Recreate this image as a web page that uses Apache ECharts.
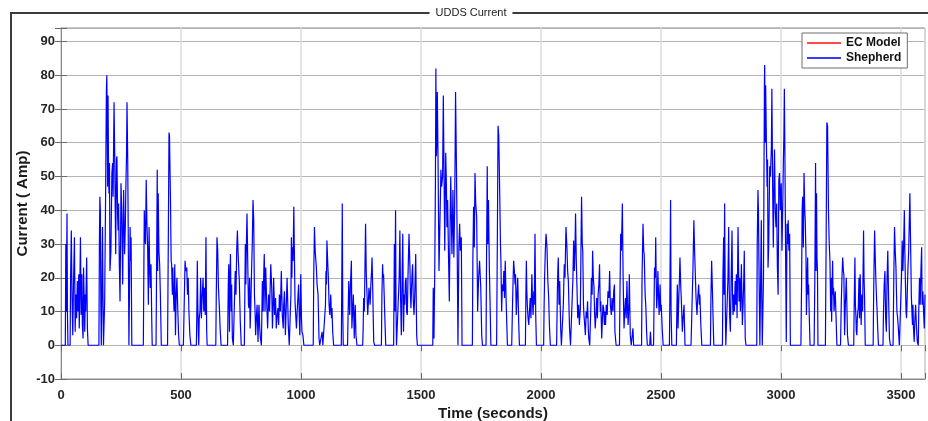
<!DOCTYPE html>
<html>
<head>
<meta charset="utf-8">
<title>UDDS Current</title>
<script src="https://cdn.jsdelivr.net/npm/echarts@6/dist/echarts.min.js"></script>
<style>
  html, body { margin: 0; padding: 0; background: #ffffff; }
  #chart { width: 928px; height: 421px; }
</style>
</head>
<body>
<div id="chart"></div>
<script>
// Battery current (A) over three consecutive UDDS drive cycles, [time s, current A]
const shepherdCycle1 = [
  [0,0],[18,0],[20,30],[22,10],[25,39],[27,9],[29,0],[38,0],[40,20],[43,34],[46,14],[49,3],[52,18],[56,32],[59,4],[62,15],[65,8],[68,19],[71,10],[74,21],[76,5],[78,14],[81,32],[84,9],[87,21],[89,6],[92,2],[94,23],[97,12],[99,4],[101,15],[103,10],[107,26],[110,5],[113,0],
  [158,0],[160,30],[162,44],[164,40],[166,12],[168,0],[171,0],[173,35],[175,14],[177,0],[180,0],[182,13],[186,46],[189,75],[191,80],[193,60],[194,47],[196,74],[198,54],[200,45],[202,54],[204,22],[208,28],[212,51],[215,54],[217,44],[221,72],[224,55],[226,40],[228,27],[231,55],[233,56],[236,38],[238,34],[240,42],[243,24],[246,13],[250,48],[253,40],[257,18],[259,35],[261,46],[265,27],[268,35],[270,46],[273,56],[275,72],[278,55],[280,35],[283,0],[285,0],[288,35],[290,25],[292,32],[295,0],
  [343,0],[345,20],[347,40],[349,33],[352,30],[355,49],[358,36],[361,29],[364,12],[367,35],[369,25],[372,17],[375,24],[378,8],[380,0],
  [396,0],[398,20],[401,52],[403,22],[405,45],[408,28],[411,24],[414,15],[418,0],
  [444,0],[447,30],[450,63],[452,62],[456,44],[459,25],[461,24],[464,15],[466,23],[468,16],[471,10],[474,24],[477,3],[480,15],[483,20],[486,12],[490,3],[493,0],
  [510,0],[513,11],[517,25],[520,22],[524,23],[527,15],[530,20],[533,10],[537,3],[541,0],
  [564,0],[566,10],[568,25],[570,12],[572,4],[574,0],[576,8],[579,10],[582,20],[585,8],[588,14],[592,20],[595,10],[598,17],[601,9],[604,32],[607,4],[609,0],
  [645,0],[647,15],[650,32],[653,28],[656,17],[660,11],[663,5],[667,0],
  [694,0],[697,18],[699,24],[702,4],[704,20],[706,27],[709,10],[711,18],[714,2],[718,0],
  [723,0],[726,22],[729,15],[732,28],[735,34],[738,27],[741,22],[743,19],[747,7],[751,0],
  [764,0],[766,15],[768,30],[770,18],[773,32],[775,39],[778,25],[781,12],[783,11],[786,20],[788,5],[791,12],[794,22],[797,30],[800,43],[803,37],[806,15],[809,9],[811,3],[814,8],[817,12],[821,1],[823,8],[825,12],[828,5],[831,2],[835,0],
  [836,0],[839,19],[842,10],[845,22],[847,27],[850,10],[853,23],[857,13],[861,5],[865,15],[869,10],[874,24],[878,17],[881,5],[884,12],[886,20],[890,9],[894,14],[897,5],[901,9],[904,11],[907,6],[910,15],[914,10],[918,22],[922,9],[926,5],[928,12],[931,16],[935,3],[938,10],[942,20],[945,12],[947,6],[951,0],
  [956,0],[958,15],[960,32],[962,20],[964,29],[967,25],[970,41],[972,30],[975,13],[978,9],[981,5],[984,10],[987,14],[990,18],[993,8],[995,3],[997,10],[999,21],[1002,8],[1004,4],[1008,3],[1012,0],
  [1051,0],[1053,20],[1056,35],[1059,28],[1061,26],[1064,23],[1067,18],[1071,15],[1075,2],[1078,0],[1085,0],[1088,4],[1091,0],[1099,0],[1102,12],[1104,22],[1106,18],[1108,31],[1111,25],[1114,20],[1117,12],[1120,9],[1124,15],[1127,8],[1129,11],[1132,4],[1136,0],
  [1168,0],[1170,20],[1172,42],[1174,10],[1176,0],[1194,0],[1197,12],[1199,19],[1203,9],[1206,18],[1210,25],[1212,5],[1215,10],[1218,15],[1222,2],[1224,8],[1226,12],[1229,3],[1233,0],
  [1257,0],[1259,5],[1261,14],[1264,10],[1266,20],[1269,36],[1272,21],[1275,15],[1278,9],[1281,13],[1283,17],[1286,15],[1288,12],[1291,18],[1294,22],[1296,26],[1299,16],[1303,1],[1307,0],
  [1335,0],[1337,14],[1340,24],[1342,20],[1344,21],[1347,14],[1349,9],[1353,0]
];

const shepherdCycle2 = [
  [1369,0],[1386,0],[1389,30],[1391,10],[1394,40],[1396,11],[1398,0],[1406,0],[1409,20],[1412,34],[1415,14],[1418,3],[1421,18],[1424,33],[1427,4],[1430,15],[1432,12],[1435,19],[1438,20],[1440,10],[1443,9],[1446,21],[1450,33],[1454,23],[1456,15],[1458,11],[1462,20],[1465,24],[1468,13],[1471,9],[1474,15],[1478,27],[1482,3],[1485,0],
  [1549,0],[1551,17],[1554,2],[1557,20],[1560,47],[1562,82],[1564,56],[1566,60],[1568,75],[1571,55],[1575,22],[1579,37],[1583,52],[1586,47],[1590,50],[1593,74],[1596,51],[1599,28],[1603,57],[1606,47],[1608,35],[1611,43],[1615,25],[1618,13],[1621,35],[1624,50],[1626,40],[1629,27],[1633,46],[1637,26],[1640,40],[1642,55],[1644,75],[1647,57],[1650,36],[1654,0],[1656,0],[1658,30],[1661,36],[1664,28],[1668,32],[1671,0],
  [1714,0],[1716,25],[1719,41],[1722,29],[1725,51],[1728,42],[1732,38],[1736,10],[1740,20],[1744,25],[1749,17],[1753,3],[1756,0],
  [1771,0],[1773,25],[1776,53],[1778,30],[1781,43],[1785,22],[1788,12],[1791,0],
  [1815,0],[1818,30],[1821,65],[1824,62],[1828,45],[1831,30],[1833,25],[1836,10],[1839,18],[1842,16],[1845,22],[1848,14],[1851,25],[1854,15],[1856,10],[1860,0],
  [1878,0],[1881,11],[1884,20],[1886,25],[1889,22],[1892,18],[1894,21],[1897,9],[1900,15],[1903,20],[1907,7],[1910,0],
  [1935,0],[1937,15],[1939,25],[1941,16],[1943,12],[1946,8],[1949,6],[1952,10],[1955,14],[1958,8],[1962,21],[1965,12],[1967,9],[1970,16],[1972,12],[1975,33],[1978,9],[1981,0],
  [2011,0],[2013,12],[2015,20],[2018,28],[2021,33],[2025,29],[2028,20],[2032,14],[2035,6],[2039,0],
  [2065,0],[2068,15],[2070,22],[2072,26],[2075,12],[2078,19],[2082,5],[2085,0],[2090,0],[2093,12],[2097,24],[2100,20],[2104,35],[2108,29],[2111,22],[2114,19],[2117,10],[2119,5],[2123,0],
  [2131,0],[2133,20],[2136,31],[2139,22],[2142,30],[2144,39],[2147,25],[2150,17],[2153,8],[2157,12],[2160,6],[2164,11],[2166,25],[2169,44],[2172,30],[2174,28],[2177,12],[2179,9],[2182,6],[2185,3],[2188,10],[2191,8],[2194,13],[2197,5],[2199,2],[2203,0],
  [2206,0],[2208,12],[2210,20],[2213,15],[2215,28],[2218,20],[2221,17],[2223,10],[2226,5],[2229,9],[2232,14],[2235,8],[2238,15],[2241,18],[2244,24],[2247,10],[2249,13],[2253,2],[2256,8],[2258,12],[2261,11],[2264,6],[2266,10],[2269,6],[2272,12],[2276,9],[2279,16],[2283,14],[2286,22],[2289,12],[2293,9],[2296,14],[2300,10],[2303,16],[2306,18],[2308,4],[2313,0],
  [2327,0],[2329,15],[2332,33],[2335,28],[2339,42],[2342,21],[2344,12],[2346,5],[2349,10],[2352,14],[2355,8],[2358,19],[2361,10],[2363,6],[2366,12],[2368,21],[2372,3],[2376,0],[2380,0],[2383,5],[2386,0],
  [2419,0],[2421,20],[2425,36],[2428,28],[2430,27],[2434,15],[2437,11],[2440,4],[2443,0],
  [2453,0],[2456,4],[2459,0],
  [2469,0],[2471,12],[2473,23],[2476,20],[2478,32],[2480,20],[2482,11],[2485,15],[2487,22],[2490,14],[2492,9],[2494,13],[2496,18],[2499,10],[2501,12],[2505,5],[2509,0],
  [2535,0],[2537,15],[2540,43],[2542,10],[2545,0],
  [2564,0],[2566,10],[2568,18],[2571,5],[2574,14],[2577,20],[2579,26],[2582,18],[2585,13],[2589,4],[2592,8],[2596,12],[2600,0],
  [2625,0],[2628,8],[2630,14],[2633,22],[2637,37],[2640,28],[2643,21],[2646,14],[2650,9],[2653,14],[2657,18],[2660,12],[2662,15],[2666,6],[2670,0],
  [2706,0],[2708,14],[2711,25],[2714,17],[2717,8],[2720,0]
];

const shepherdCycle3 = [
  [2738,0],[2756,0],[2758,20],[2761,32],[2763,15],[2765,42],[2768,11],[2770,0],[2777,0],[2779,20],[2782,35],[2784,18],[2786,9],[2789,4],[2792,18],[2796,34],[2798,15],[2800,9],[2803,15],[2806,10],[2809,19],[2812,12],[2814,21],[2817,8],[2821,35],[2825,13],[2828,20],[2831,10],[2835,24],[2839,6],[2842,12],[2845,20],[2847,28],[2851,2],[2854,0],
  [2899,0],[2901,30],[2904,46],[2906,40],[2908,25],[2910,12],[2912,0],[2915,0],[2918,37],[2920,14],[2922,0],[2925,0],[2927,20],[2929,49],[2931,78],[2932,83],[2934,60],[2936,77],[2939,61],[2942,47],[2944,55],[2946,23],[2949,30],[2953,53],[2956,50],[2960,59],[2962,76],[2965,48],[2968,29],[2971,50],[2973,58],[2976,40],[2979,35],[2982,42],[2985,23],[2988,15],[2991,49],[2994,51],[2997,40],[3001,48],[3004,28],[3007,40],[3010,55],[3012,62],[3014,76],[3016,59],[3019,29],[3022,1],[3025,36],[3028,30],[3030,37],[3033,28],[3036,33],[3039,0],
  [3083,0],[3086,20],[3088,40],[3090,44],[3093,29],[3096,51],[3099,40],[3101,37],[3104,27],[3106,9],[3109,20],[3111,26],[3113,15],[3115,18],[3118,8],[3121,0],
  [3138,0],[3141,20],[3144,54],[3146,22],[3148,45],[3150,26],[3152,22],[3154,0],
  [3185,0],[3188,30],[3191,66],[3194,65],[3198,39],[3201,30],[3204,25],[3207,10],[3209,20],[3211,7],[3213,16],[3215,25],[3217,15],[3219,17],[3221,10],[3223,13],[3226,16],[3229,9],[3233,0],
  [3248,0],[3251,12],[3254,20],[3257,26],[3260,22],[3262,21],[3265,3],[3268,12],[3272,20],[3275,10],[3277,3],[3281,0],
  [3303,0],[3305,12],[3308,26],[3310,12],[3312,9],[3314,4],[3316,3],[3318,8],[3320,10],[3322,11],[3325,20],[3327,8],[3330,21],[3332,12],[3334,6],[3337,15],[3340,10],[3344,34],[3346,20],[3348,15],[3351,0],
  [3384,0],[3386,15],[3388,25],[3390,34],[3393,25],[3395,20],[3398,14],[3400,11],[3403,5],[3406,0],
  [3425,0],[3427,10],[3430,18],[3433,22],[3436,8],[3439,4],[3442,20],[3445,28],[3448,15],[3452,2],[3456,0],
  [3467,0],[3470,20],[3473,35],[3476,28],[3479,23],[3481,16],[3483,10],[3486,8],[3489,5],[3493,0],
  [3500,0],[3502,20],[3505,31],[3508,22],[3511,30],[3514,40],[3516,28],[3518,20],[3521,10],[3523,8],[3525,12],[3527,18],[3529,23],[3532,28],[3534,35],[3537,45],[3540,30],[3543,15],[3546,9],[3548,6],[3550,12],[3552,5],[3555,1],[3558,8],[3561,12],[3564,6],[3568,1],[3572,0],[3574,10],[3577,20],[3580,12],[3583,22],[3586,29],[3588,12],[3591,16],[3594,10],[3597,5],[3600,15]
];

// Axis ranges and tick spacing
const timeRange = [0, 3600];
const timeTickStep = 500;
const currentRange = [-10, 94];
const currentTickStep = 10;

const seriesNames = ['EC Model', 'Shepherd'];
const seriesColors = ['#ff0000', '#0000ff'];

const shepherd = shepherdCycle1.concat(shepherdCycle2, shepherdCycle3);
// The EC model output coincides with the measured Shepherd trace and is fully covered by it
const ecModel = shepherd;

const FONT = 'Liberation Sans, Arial, Helvetica, sans-serif';
const INK = '#262626';

const chart = echarts.init(document.getElementById('chart'), null, { renderer: 'canvas' });

const tickOnly = (step) => (v) => (Math.abs(v / step - Math.round(v / step)) < 1e-9 ? String(v) : '');

chart.setOption({
  animation: false,
  backgroundColor: '#ffffff',
  textStyle: { fontFamily: FONT },
  graphic: [
    {
      type: 'rect', silent: true, z: 0,
      shape: { x: 11, y: 13, width: 940, height: 440 },
      style: { fill: 'none', stroke: '#3c3c3c', lineWidth: 2 }
    },
    {
      type: 'text', silent: true, z: 10, x: 471, y: 13,
      style: {
        text: 'UDDS Current', fill: '#1a1a1a', fontSize: 11, fontFamily: FONT,
        align: 'center', verticalAlign: 'middle',
        backgroundColor: '#ffffff', padding: [1, 6]
      }
    }
  ],
  grid: {
    left: 61, top: 28, width: 864, height: 351,
    outerBoundsMode: 'none',
    show: true, borderColor: '#8a8a8a', borderWidth: 1, backgroundColor: 'transparent'
  },
  legend: {
    data: [
      { name: seriesNames[0], itemStyle: { color: '#ff4a4a' } },
      { name: seriesNames[1], itemStyle: { color: '#3a3aff' } }
    ],
    orient: 'vertical',
    left: 802, top: 33,
    icon: 'rect',
    itemWidth: 34, itemHeight: 2, itemGap: 3,
    padding: [4, 6, 4, 5],
    backgroundColor: '#ffffff',
    borderColor: '#6e6e6e', borderWidth: 1,
    textStyle: { fontFamily: FONT, fontSize: 12, fontWeight: 'bold', color: '#111111' }
  },
  xAxis: [
    {
      type: 'value', min: timeRange[0], max: timeRange[1], interval: timeTickStep,
      name: 'Time (seconds)', nameLocation: 'middle', nameGap: 27, nameMoveOverlap: false,
      nameTextStyle: { fontFamily: FONT, fontSize: 15, fontWeight: 'bold', color: '#1a1a1a' },
      axisLine: { show: true, onZero: false, lineStyle: { color: '#8a8a8a', width: 1 } },
      axisTick: { show: true, inside: true, length: 6, lineStyle: { color: '#6a6a6a' } },
      axisLabel: { margin: 10, fontFamily: FONT, fontSize: 13, fontWeight: 'bold', color: INK, formatter: tickOnly(timeTickStep) },
      splitLine: { show: true, lineStyle: { color: '#dcdcdc', width: 1.5 } }
    },
    {
      type: 'value', position: 'top', min: timeRange[0], max: timeRange[1], interval: timeTickStep,
      axisLine: { show: false },
      axisTick: { show: true, inside: true, length: 6, lineStyle: { color: '#6a6a6a' } },
      axisLabel: { show: false },
      splitLine: { show: false }
    }
  ],
  yAxis: [
    {
      type: 'value', min: currentRange[0], max: currentRange[1], interval: currentTickStep,
      name: 'Current ( Amp)', nameLocation: 'middle', nameGap: 31, nameMoveOverlap: false,
      nameTextStyle: { fontFamily: FONT, fontSize: 15, fontWeight: 'bold', color: '#1a1a1a' },
      axisLine: { show: true, onZero: false, lineStyle: { color: '#8a8a8a', width: 1 } },
      axisTick: { show: true, inside: true, length: 6, lineStyle: { color: '#6a6a6a' } },
      axisLabel: { margin: 6, fontFamily: FONT, fontSize: 13, fontWeight: 'bold', color: INK, formatter: tickOnly(currentTickStep) },
      splitLine: { show: true, lineStyle: { color: '#b4b4b4', width: 1 } }
    },
    {
      type: 'value', position: 'right', min: currentRange[0], max: currentRange[1], interval: currentTickStep,
      axisLine: { show: false },
      axisTick: { show: true, inside: true, length: 6, lineStyle: { color: '#6a6a6a' } },
      axisLabel: { show: false },
      splitLine: { show: false }
    }
  ],
  series: [
    {
      name: seriesNames[0], type: 'line', xAxisIndex: 0, yAxisIndex: 0,
      data: ecModel, showSymbol: false, symbol: 'none', sampling: null,
      // lies exactly under the Shepherd trace, so none of it shows through
      lineStyle: { color: seriesColors[0], width: 1.2, opacity: 0 }, itemStyle: { color: seriesColors[0] },
      z: 2, silent: true
    },
    {
      name: seriesNames[1], type: 'line', xAxisIndex: 0, yAxisIndex: 0,
      data: shepherd, showSymbol: false, symbol: 'none', sampling: null,
      lineStyle: { color: seriesColors[1], width: 1.2 }, itemStyle: { color: seriesColors[1] },
      z: 3, silent: true
    }
  ]
});
</script>
</body>
</html>
